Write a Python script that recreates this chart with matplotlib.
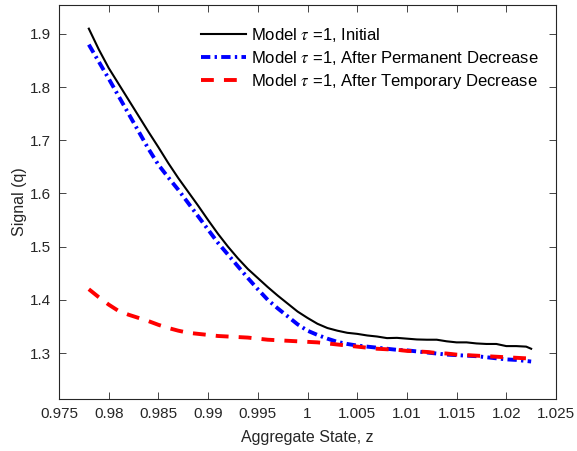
import matplotlib
matplotlib.use("Agg")
import matplotlib.pyplot as plt
from matplotlib.ticker import FixedLocator, FuncFormatter

plt.rcParams["font.family"] = ["Liberation Sans", "DejaVu Sans"]
plt.rcParams["mathtext.fontset"] = "stix"

# Aggregate state grid
z = [0.978, 0.979, 0.980, 0.981, 0.982, 0.983, 0.984, 0.985, 0.986, 0.987,
     0.988, 0.989, 0.990, 0.991, 0.992, 0.993, 0.994, 0.995, 0.996, 0.997,
     0.998, 0.999, 1.000, 1.001, 1.002, 1.003, 1.004, 1.005, 1.006, 1.007,
     1.008, 1.009, 1.010, 1.011, 1.012, 1.013, 1.014, 1.015, 1.016, 1.017,
     1.018, 1.019, 1.020, 1.021, 1.022, 1.0225]

q_initial = [1.910, 1.871, 1.836, 1.806, 1.776, 1.746, 1.716, 1.687, 1.657, 1.629,
             1.603, 1.577, 1.550, 1.524, 1.500, 1.478, 1.458, 1.441, 1.424, 1.408,
             1.393, 1.378, 1.366, 1.355, 1.347, 1.342, 1.338, 1.336, 1.333, 1.331,
             1.328, 1.3285, 1.327, 1.3255, 1.325, 1.325, 1.322, 1.320, 1.320, 1.318,
             1.317, 1.317, 1.313, 1.313, 1.312, 1.308]

q_permanent = [1.880, 1.848, 1.816, 1.783, 1.750, 1.717, 1.684, 1.654, 1.630, 1.607,
               1.582, 1.557, 1.532, 1.507, 1.485, 1.463, 1.441, 1.420, 1.400, 1.384,
               1.369, 1.354, 1.342, 1.334, 1.327, 1.321, 1.317, 1.314, 1.312, 1.310,
               1.308, 1.306, 1.305, 1.303, 1.301, 1.299, 1.297, 1.296, 1.295, 1.294,
               1.292, 1.290, 1.288, 1.287, 1.285, 1.284]

q_temporary = [1.420, 1.405, 1.391, 1.379, 1.372, 1.366, 1.360, 1.353, 1.347, 1.342,
               1.338, 1.336, 1.334, 1.332, 1.331, 1.330, 1.329, 1.327, 1.325, 1.324,
               1.323, 1.322, 1.321, 1.320, 1.318, 1.316, 1.314, 1.312, 1.310, 1.308,
               1.307, 1.306, 1.304, 1.303, 1.302, 1.300, 1.299, 1.297, 1.296, 1.295,
               1.294, 1.293, 1.292, 1.291, 1.290, 1.289]

labels = [r"Model $\tau$ =1, Initial",
          r"Model $\tau$ =1, After Permanent Decrease",
          r"Model $\tau$ =1, After Temporary Decrease"]

x_ticks = [0.975, 0.98, 0.985, 0.99, 0.995, 1.0, 1.005, 1.01, 1.015, 1.02, 1.025]
y_ticks = [1.3, 1.4, 1.5, 1.6, 1.7, 1.8, 1.9]

axis_color = "#262626"

fig = plt.figure(figsize=(5.77, 4.51), dpi=100)
ax = fig.add_axes([59 / 577, 1 - 399 / 451, (556 - 59) / 577, (399 - 5) / 451])

ax.plot(z, q_initial, color="black", lw=1.5, label=labels[0])
ax.plot(z, q_permanent, color="blue", lw=2.8,
        linestyle=(0, (2.4, 1.1, 0.6, 1.1)), label=labels[1])
ax.plot(z, q_temporary, color="red", lw=2.8,
        linestyle=(0, (3.3, 2.6)), label=labels[2])

ax.set_xlim(0.975, 1.025)
ax.set_ylim(1.2135, 1.9545)
ax.xaxis.set_major_locator(FixedLocator(x_ticks))
ax.yaxis.set_major_locator(FixedLocator(y_ticks))
ax.xaxis.set_major_formatter(FuncFormatter(lambda v, p: f"{v:g}"))
ax.yaxis.set_major_formatter(FuncFormatter(lambda v, p: f"{v:g}"))

ax.tick_params(direction="in", length=5, width=0.6, colors=axis_color,
               labelsize=11, top=True, right=True, pad=6)
for s in ax.spines.values():
    s.set_color(axis_color)
    s.set_linewidth(0.8)

ax.set_xlabel("Aggregate State, z", fontsize=11.5, color=axis_color, labelpad=6)
ax.set_ylabel("Signal (q)", fontsize=11.5, color=axis_color, labelpad=2)

leg = ax.legend(loc="upper left", bbox_to_anchor=(0.272, 0.964), frameon=False,
                fontsize=12, handlelength=2.7, handletextpad=0.3,
                labelspacing=0.3, borderaxespad=0.0)

fig.savefig("out.png", dpi=100)
